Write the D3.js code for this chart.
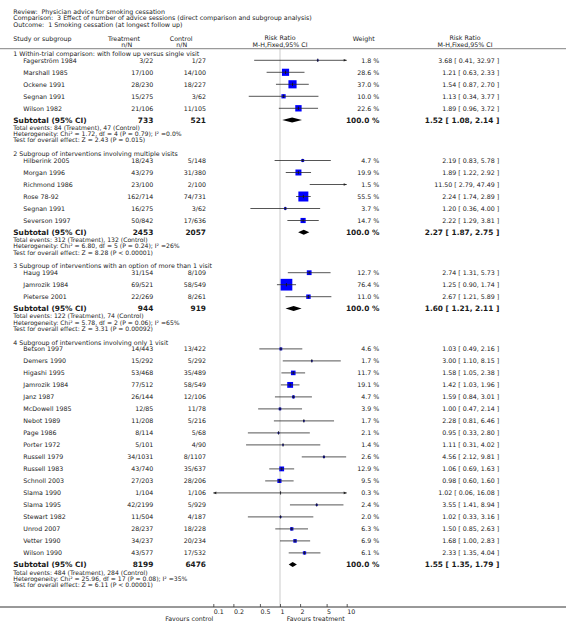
<!DOCTYPE html>
<html><head><meta charset="utf-8">
<script src="https://cdn.jsdelivr.net/npm/d3@7"></script>
<style>
body{margin:0;background:#fff}
text{font-family:"DejaVu Sans",sans-serif;fill:#1a1a1a;white-space:pre}
</style>
</head><body><svg id="c" width="566" height="637"></svg>
<script>
// ---------- DATA ----------
const headerLines = [
  "Review:  Physician advice for smoking cessation",
  "Comparison:  3 Effect of number of advice sessions (direct comparison and subgroup analysis)",
  "Outcome:  1 Smoking cessation (at longest follow up)"
];
const groupTitles = [
  "1 Within-trial comparison: with follow up versus single visit",
  "2 Subgroup of interventions involving multiple visits",
  "3 Subgroup of interventions with an option of more than 1 visit",
  "4 Subgroup of interventions involving only 1 visit"
];
const studyGroup = [0,0,0,0,0, 1,1,1,1,1,1, 2,2,2, 3,3,3,3,3,3,3,3,3,3,3,3,3,3,3,3,3,3];
const studyNames = [
  "Fagerström 1984","Marshall 1985","Ockene 1991","Segnan 1991","Wilson 1982",
  "Hilberink 2005","Morgan 1996","Richmond 1986","Rose 78-92","Segnan 1991","Severson 1997",
  "Haug 1994","Jamrozik 1984","Pieterse 2001",
  "Betson 1997","Demers 1990","Higashi 1995","Jamrozik 1984","Janz 1987","McDowell 1985",
  "Nebot 1989","Page 1986","Porter 1972","Russell 1979","Russell 1983","Schnoll 2003",
  "Slama 1990","Slama 1995","Stewart 1982","Unrod 2007","Vetter 1990","Wilson 1990"
];
const treatEvents = [3,17,28,15,21, 18,43,23,162,16,50, 31,69,22, 14,15,53,77,26,12,11,8,5,34,43,27,1,42,11,28,34,43];
const treatTotals = [22,100,230,275,106, 243,279,100,714,275,842, 154,521,269, 443,292,468,512,144,85,208,114,101,1031,740,203,104,2199,504,237,237,577];
const ctrlEvents  = [1,14,18,3,11, 5,31,2,74,3,17, 8,58,8, 13,5,35,58,12,11,5,5,4,8,35,28,1,5,4,18,20,17];
const ctrlTotals  = [27,100,227,62,105, 148,380,100,731,62,636, 109,549,261, 422,292,489,549,106,78,216,68,90,1107,637,206,106,929,187,228,234,532];
const weights = [1.8,28.6,37.0,10.0,22.6, 4.7,19.9,1.5,55.5,3.7,14.7, 12.7,76.4,11.0,
  4.6,1.7,11.7,19.1,4.7,3.9,1.7,2.1,1.4,2.6,12.9,9.5,0.3,2.4,2.0,6.3,6.9,6.1];
const riskRatio = [3.68,1.21,1.54,1.13,1.89, 2.19,1.89,11.50,2.24,1.20,2.22, 2.74,1.25,2.67,
  1.03,3.00,1.58,1.42,1.59,1.00,2.28,0.95,1.11,4.56,1.06,0.98,1.02,3.55,1.02,1.50,1.68,2.33];
const ciLow = [0.41,0.63,0.87,0.34,0.96, 0.83,1.22,2.79,1.74,0.36,1.29, 1.31,0.90,1.21,
  0.49,1.10,1.05,1.03,0.84,0.47,0.81,0.33,0.31,2.12,0.69,0.60,0.06,1.41,0.33,0.85,1.00,1.35];
const ciHigh = [32.97,2.33,2.70,3.77,3.72, 5.78,2.92,47.49,2.89,4.00,3.81, 5.73,1.74,5.89,
  2.16,8.15,2.38,1.96,3.01,2.14,6.46,2.80,4.02,9.81,1.63,1.60,16.08,8.94,3.16,2.63,2.83,4.04];

const subTreatTotal = [733,2453,944,8199];
const subCtrlTotal  = [521,2057,919,6476];
const subRR   = [1.52,2.27,1.60,1.55];
const subLow  = [1.08,1.87,1.21,1.35];
const subHigh = [2.14,2.75,2.11,1.79];
const subEventsT = [84,312,122,484];
const subEventsC = [47,132,74,284];
const hetChi = ["1.72","6.80","5.78","25.96"];
const hetDf  = [4,5,2,17];
const hetP   = ["0.79","0.24","0.06","0.08"];
const hetI2  = ["0.0%","26%","65%","35%"];
const testZ  = ["2.43","8.28","3.31","6.11"];
const testP  = ["P = 0.015","P < 0.00001","P = 0.00092","P < 0.00001"];
const tickValues = [0.1,0.2,0.5,1,2,5,10];

// ---------- DRAW ----------
const svg = d3.select("#c");
const W = 566;
const FS = 6.3, FB = 7.4, FN = 6.1;
const x = d3.scaleLog().domain([0.1, 10]).range([213.3, 346.7]);
const axisY = 607;

const col = {name: 23.3, group: 13.3, treat: 153.3, ctrl: 206, weight: 379.3, ci: 499.3};

function txt(xp, y, s, anchor, bold, size) {
  return svg.append("text").attr("x", xp).attr("y", y)
    .attr("dominant-baseline", "central")
    .attr("text-anchor", anchor || "start")
    .attr("font-size", size || (bold ? FB : FS))
    .attr("font-weight", bold ? "bold" : null)
    .text(s);
}
const fmtCI = (r, l, h) => r.toFixed(2) + " [ " + l.toFixed(2) + ", " + h.toFixed(2) + " ]";

// null line
svg.append("line").attr("x1", x(1)).attr("x2", x(1)).attr("y1", 49).attr("y2", axisY)
  .attr("stroke", "#dcdcdc").attr("stroke-width", 1.5);

// header
const hy = [11, 17.7, 24.3];
headerLines.forEach((s, i) => txt(13.3, hy[i], s));
txt(13.3, 38.3, "Study or subgroup");
txt(124, 38.3, "Treatment", "middle");
txt(126.7, 44.3, "n/N", "middle");
txt(181.2, 38.3, "Control", "middle");
txt(181.7, 44.3, "n/N", "middle");
txt(x(1), 37.8, "Risk Ratio", "middle");
txt(x(1), 44.3, "M-H,Fixed,95% CI", "middle");
txt(352.7, 38.3, "Weight");
txt(465, 37.8, "Risk Ratio", "middle");
txt(465, 44.3, "M-H,Fixed,95% CI", "middle");
svg.append("line").attr("x1", 0).attr("x2", W).attr("y1", 48.6).attr("y2", 48.6)
  .attr("stroke", "#9a9a9a").attr("stroke-width", 1.4);

const plot = svg.append("g");
function arrow(xp, y, dir) {
  plot.append("path")
    .attr("d", `M${xp},${y} L${xp - dir*3},${y - 1.3} L${xp - dir*3},${y + 1.3} Z`)
    .attr("fill", "#222");
}

let y = 53.5;
groupTitles.forEach((title, g) => {
  txt(col.group, y, title);
  y += 6.8;
  const idx = studyGroup.map((gg, i) => gg === g ? i : -1).filter(i => i >= 0);
  idx.forEach((i, k) => {
    if (k > 0) y += 12;
    txt(col.name, y, studyNames[i]);
    txt(col.treat, y, treatEvents[i] + "/" + treatTotals[i], "end");
    txt(col.ctrl, y, ctrlEvents[i] + "/" + ctrlTotals[i], "end");
    txt(col.weight, y, weights[i].toFixed(1) + " %", "end");
    txt(col.ci, y, fmtCI(riskRatio[i], ciLow[i], ciHigh[i]), "end");
    const inside = riskRatio[i] >= 0.1 && riskRatio[i] <= 10;
    if (inside) {
      const s = 1.34 * Math.sqrt(weights[i]);
      plot.append("rect").attr("x", x(riskRatio[i]) - s/2).attr("y", y - s/2)
        .attr("width", s).attr("height", s).attr("fill", "#0000ff");
    }
    const lo = Math.max(ciLow[i], 0.1), hi = Math.min(ciHigh[i], 10);
    plot.append("line").attr("x1", x(lo)).attr("x2", x(hi)).attr("y1", y).attr("y2", y)
      .attr("stroke", "#2a2a2a").attr("stroke-width", 0.8);
    if (ciHigh[i] > 10) arrow(x(10), y, 1);
    if (ciLow[i] < 0.1) arrow(x(0.1), y, -1);
    if (inside) {
      plot.append("line").attr("x1", x(riskRatio[i])).attr("x2", x(riskRatio[i]))
        .attr("y1", y - 1.7).attr("y2", y + 1.7).attr("stroke", "#111").attr("stroke-width", 0.8);
    }
  });
  y += 11.7;
  txt(col.group, y, "Subtotal (95% CI)", "start", true);
  txt(col.treat, y, String(subTreatTotal[g]), "end", true);
  txt(col.ctrl, y, String(subCtrlTotal[g]), "end", true);
  txt(col.weight, y, "100.0 %", "end", true);
  txt(col.ci, y, fmtCI(subRR[g], subLow[g], subHigh[g]), "end", true);
  const h = 2.5;
  plot.append("path")
    .attr("d", `M${x(subLow[g])},${y} L${x(subRR[g])},${y - h} L${x(subHigh[g])},${y} L${x(subRR[g])},${y + h} Z`)
    .attr("fill", "#000");
  y += 7.4;
  txt(col.group, y, `Total events: ${subEventsT[g]} (Treatment), ${subEventsC[g]} (Control)`, "start", false, FN);
  y += 6.3;
  txt(col.group, y, `Heterogeneity: Chi² = ${hetChi[g]}, df = ${hetDf[g]} (P = ${hetP[g]}); I² =${hetI2[g]}`, "start", false, FN);
  y += 6.2;
  txt(col.group, y, `Test for overall effect: Z = ${testZ[g]} (${testP[g]})`, "start", false, FN);
  y += 13.8;
});

// axis
svg.append("line").attr("x1", 0).attr("x2", W).attr("y1", axisY).attr("y2", axisY)
  .attr("stroke", "#333").attr("stroke-width", 1);
const ax = svg.append("g").attr("transform", `translate(0,${axisY})`)
  .call(d3.axisBottom(x).tickValues(tickValues).tickFormat(d => String(d)).tickSize(-3));
ax.attr("font-size", null).attr("font-family", null);
ax.select(".domain").remove();
ax.selectAll(".tick line").attr("stroke", "#333").attr("stroke-width", 0.8);
ax.selectAll(".tick text").attr("y", 4.8).attr("dy", null)
  .attr("dominant-baseline", "central").attr("text-anchor", "start")
  .attr("font-size", FS);
txt(213.3, 618.3, "Favours control", "end");
txt(286.7, 618.3, "Favours treatment", "start");
</script></body></html>
